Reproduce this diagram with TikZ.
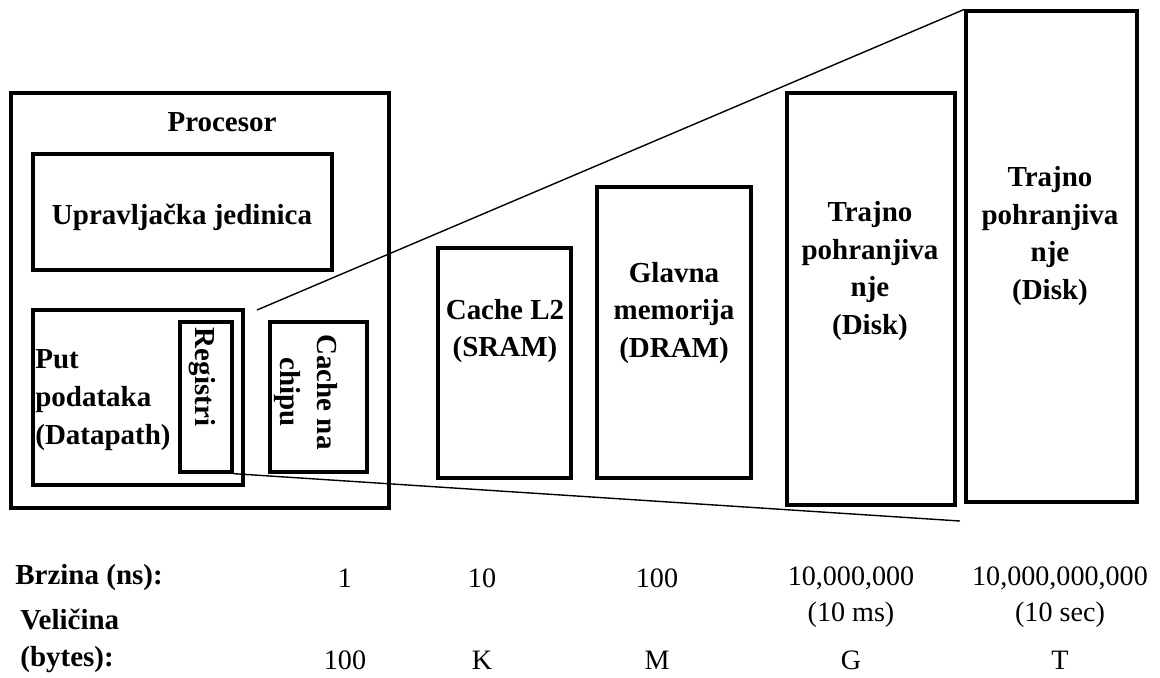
\documentclass[tikz,border=0pt]{standalone}
\usepackage{fontspec}
\setmainfont{Liberation Serif}
\usetikzlibrary{positioning}

\begin{document}
\begin{tikzpicture}[x=0.02cm,y=-0.02cm,
        kutija/.style={draw,line width=1.9pt,inner sep=0pt},
        natpis/.style={inner sep=0pt,align=center,font=\fontsize{16.5}{21.5}\selectfont\bfseries},
        broj/.style={inner sep=0pt,font=\fontsize{16}{21.5}\selectfont},
        lupa/.style={line width=0.8pt}]
        %\draw[very thin,color=gray] (0,0) grid[step=50] (1160,677);
        \useasboundingbox (0,0) rectangle (1160,677);
        % procesor
        \node[kutija,minimum width=7.56cm,minimum height=8.3cm] (procesor) at (200,300.5) {};
        \node[natpis] (procesorTxt) at (222,122) {Procesor};
        \node[kutija,minimum width=5.98cm,minimum height=2.32cm] (upravljacka) at (182.5,212) {};
        \node[natpis] (upravljackaTxt) at (182,217) {Upravljačka jedinica};
        \node[kutija,minimum width=4.2cm,minimum height=3.5cm] (datapath) at (138,397.5) {};
        \node[natpis,anchor=west,align=left] (datapathTxt) at (35,400) {Put\\podataka\\(Datapath)};
        \node[kutija,minimum width=1.04cm,minimum height=3cm] (registri) at (206,397) {};
        \node[natpis,rotate=-90] (registriTxt) at (202,377) {Registri};
        \node[kutija,minimum width=1.94cm,minimum height=3cm] (cacheChip) at (318.5,397) {};
        \node[natpis,rotate=-90] (cacheChipTxt) at (306,392) {Cache na\\chipu};
        % hijerarhija memorije
        \node[kutija,minimum width=2.66cm,minimum height=4.6cm] (cacheL2) at (504.5,363) {};
        \node[natpis] (cacheL2Txt) at (505,331) {Cache L2\\(SRAM)};
        \node[kutija,minimum width=3.08cm,minimum height=5.82cm] (dram) at (674,332.5) {};
        \node[natpis] (dramTxt) at (674,313) {Glavna\\memorija\\(DRAM)};
        \node[kutija,minimum width=3.36cm,minimum height=8.24cm] (disk1) at (871,299) {};
        \node[natpis] (disk1Txt) at (870,271) {Trajno\\pohranjiva\\nje\\(Disk)};
        \node[kutija,minimum width=3.42cm,minimum height=9.82cm] (disk2) at (1051.5,256.5) {};
        \node[natpis] (disk2Txt) at (1050,236) {Trajno\\pohranjiva\\nje\\(Disk)};
        \coordinate (lupaGore) at (257,310);
        \coordinate (lupaDolje) at (960,521);
        \draw[lupa] (lupaGore) -- (disk2.north west);
        \draw[lupa] (registri.south east) -- (lupaDolje);
        % brzina i velicina
        \node[natpis,anchor=west] (brzina) at (15,578) {Brzina (ns):};
        \node[natpis,anchor=west,align=left] (velicina) at (20,641) {Veličina\\(bytes):};
        \foreach \ime/\x/\b/\v in {a/345/1/100, b/482/10/K, c/657/100/M, d/851/{10,000,000}/G, e/1060/{10,000,000,000}/T}{
            \node[broj] (brzina-\ime) at (\x,578) {\b};
            \node[broj] (velicina-\ime) at (\x,660) {\v};
        }
        \node[broj] (ms) at (851,615) {(10 ms)};
        \node[broj] (sec) at (1060,615) {(10 sec)};
    \end{tikzpicture}
\end{document}
